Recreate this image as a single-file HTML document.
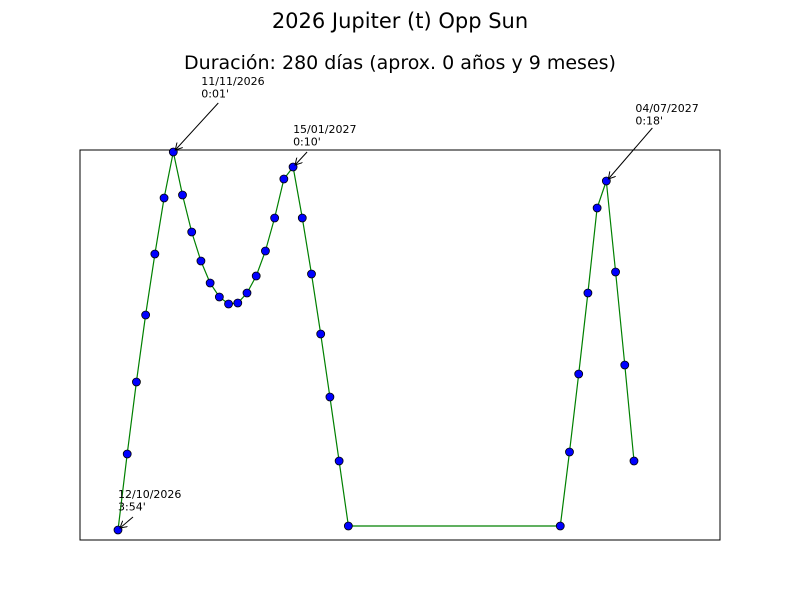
<!DOCTYPE html>
<html><head><meta charset="utf-8"><style>
body{margin:0;background:#fff;font-family:"Liberation Sans","DejaVu Sans",sans-serif}
</style></head><body>
<svg id="chart" width="800" height="600" xmlns="http://www.w3.org/2000/svg">
<defs><marker id="ah" markerWidth="8" markerHeight="8" refX="7" refY="4" orient="auto"><path d="M0,0 L7,4 L0,8" fill="none" stroke="#000" stroke-width="1"/></marker></defs>
<rect width="800" height="600" fill="#fff"/>
<text x="400" y="28" text-anchor="middle" font-size="21" font-family="DejaVu Sans, sans-serif">2026 Jupiter (t) Opp Sun</text>
<text x="400" y="69" text-anchor="middle" font-size="19" font-family="DejaVu Sans, sans-serif">Duración: 280 días (aprox. 0 años y 9 meses)</text>
<rect x="80" y="150" width="640" height="390" fill="none" stroke="#000" stroke-width="1"/>
<g id="series"></g>
<g id="ann"></g>
</svg>
<script>
const dayIndex=[0,1,2,3,4,5,6,7,8,9,10,11,12,13,14,15,16,17,18,19,20,21,22,23,24,25,48,49,50,51,52,53,54,55,56];
const values=[10,86,158,225,286,342,388,345,308,279,257,243,236,237,247,264,289,322,361,373,322,266,206,143,79,14,14,88,166,247,332,359,268,175,79];
const annIdx=[0,6,19,31];
const annText=[["12/10/2026","3:54'"],["11/11/2026","0:01'"],["15/01/2027","0:10'"],["04/07/2027","0:18'"]];
const annOff=[[0,-32],[28,-67],[0,-34],[29,-69]];
const arrOff=[[15,-13],[45,-49],[14,-15],[46,-53]];
const xs=i=>118+i*9.214;
const ys=v=>540-v;
const NS="http://www.w3.org/2000/svg";
const g=document.getElementById('series');
let d=dayIndex.map((x,i)=>(i?'L':'M')+xs(x).toFixed(1)+','+ys(values[i]).toFixed(1)).join(' ');
const line=document.createElementNS(NS,'path');
line.setAttribute('d',d);line.setAttribute('fill','none');line.setAttribute('stroke','#008000');line.setAttribute('stroke-width','1.2');


g.appendChild(line);
dayIndex.forEach((x,i)=>{const c=document.createElementNS(NS,'circle');
c.setAttribute('cx',xs(x));c.setAttribute('cy',ys(values[i]));c.setAttribute('r','4');c.setAttribute('fill','#0000ff');c.setAttribute('stroke','#000');c.setAttribute('stroke-width','0.8');


g.appendChild(c);});
const a=document.getElementById('ann');
annIdx.forEach((k,j)=>{const px=xs(dayIndex[k]),py=ys(values[k]);
const tx=px+annOff[j][0],ty=py+annOff[j][1];
const t=document.createElementNS(NS,'text');t.setAttribute('x',tx);t.setAttribute('y',ty);t.setAttribute('font-size','11');t.setAttribute('font-family','DejaVu Sans, sans-serif');
t.innerHTML='<tspan x="'+tx+'">'+annText[j][0]+'</tspan><tspan x="'+tx+'" dy="12.5">'+annText[j][1]+'</tspan>';


a.appendChild(t);
const l=document.createElementNS(NS,'line');
l.setAttribute('x1',px+arrOff[j][0]);l.setAttribute('y1',py+arrOff[j][1]);l.setAttribute('x2',px+2);l.setAttribute('y2',py-2);
l.setAttribute('stroke','#000');l.setAttribute('stroke-width','1');l.setAttribute('marker-end','url(#ah)');


a.appendChild(l);});
</script>
</body></html>
